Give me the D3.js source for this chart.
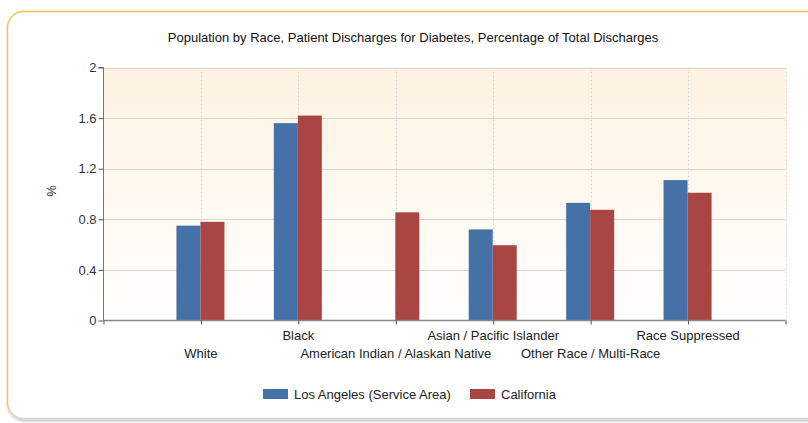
<!DOCTYPE html>
<html><head><meta charset="utf-8">
<script src="https://cdn.jsdelivr.net/npm/d3@7"></script>
<style>body{margin:0;background:#fff}svg{display:block}text{font-family:"Liberation Sans",Arial,sans-serif}</style>
</head><body><svg id="c" width="808" height="423"></svg>
<script>
const categories = ["White","Black","American Indian / Alaskan Native","Asian / Pacific Islander","Other Race / Multi-Race","Race Suppressed"];
const losAngeles = [0.75, 1.56, null, 0.72, 0.93, 1.11];
const california = [0.78, 1.62, 0.855, 0.595, 0.875, 1.01];
const seriesNames = ["Los Angeles (Service Area)","California"];
const colors = ["#4571a6","#a94644"];
const yTicks = [0,0.4,0.8,1.2,1.6,2];
const title = "Population by Race, Patient Discharges for Diabetes, Percentage of Total Discharges";

const svg = d3.select("#c");
const defs = svg.append("defs");
const g1 = defs.append("linearGradient").attr("id","bg").attr("x1",0).attr("y1",0).attr("x2",0).attr("y2",1);
g1.append("stop").attr("offset","0%").attr("stop-color","#fdf2e0");
g1.append("stop").attr("offset","100%").attr("stop-color","#ffffff");
const g2 = defs.append("linearGradient").attr("id","bd").attr("x1",0).attr("y1",0).attr("x2",0).attr("y2",1);
g2.append("stop").attr("offset","0%").attr("stop-color","#f6c14e");
g2.append("stop").attr("offset","96%").attr("stop-color","#f6c14e");
g2.append("stop").attr("offset","100%").attr("stop-color","#d8d8d8");
const f = defs.append("filter").attr("id","sh").attr("x","-5%").attr("y","-5%").attr("width","110%").attr("height","110%");
f.append("feDropShadow").attr("dx",1).attr("dy",2).attr("stdDeviation",1.5).attr("flood-color","#000").attr("flood-opacity",0.25);

svg.append("rect").attr("x",7.5).attr("y",11.5).attr("width",820).attr("height",407).attr("rx",16)
  .attr("fill","#fff").attr("stroke","url(#bd)").attr("stroke-width",1.5).attr("filter","url(#sh)");

const L=103.5, R=785.5, T=67.5, B=320.5;
const x = d3.scaleLinear().domain([0,categories.length+1]).range([L,R]);
const y = d3.scaleLinear().domain([0,2]).range([B,T]);
const bw = 24;

svg.append("rect").attr("x",L).attr("y",T).attr("width",R-L).attr("height",B-T).attr("fill","url(#bg)");

svg.append("g").selectAll("line").data(yTicks.slice(1)).join("line")
  .attr("x1",L).attr("x2",R).attr("y1",d=>Math.round(y(d))+0.5).attr("y2",d=>Math.round(y(d))+0.5)
  .attr("stroke","#d6d6d6").attr("stroke-width",1);
const vt = d3.range(1,categories.length+2);
svg.append("g").selectAll("line").data(vt).join("line")
  .attr("x1",d=>Math.round(x(d))+0.5).attr("x2",d=>Math.round(x(d))+0.5).attr("y1",T).attr("y2",B)
  .attr("stroke","#dadada").attr("stroke-dasharray","2,2");

const series=[losAngeles,california];
series.forEach((s,si)=>{
  svg.append("g").selectAll("rect").data(s.map((v,i)=>({v,i})).filter(d=>d.v!=null)).join("rect")
    .attr("x",d=>x(d.i+1)-0.5+(si===0?-bw:0)).attr("width",bw)
    .attr("y",d=>y(d.v)).attr("height",d=>B-y(d.v))
    .attr("fill",colors[si]);
});

const ya = d3.axisLeft(y).tickValues(yTicks).tickSize(5).tickFormat(d=>d3.format("~g")(d));
const gy = svg.append("g").attr("transform",`translate(${L},0)`).call(ya);
gy.select(".domain").attr("stroke","#777").attr("d",`M-5,${T}H0V${B}`);
gy.selectAll(".tick line").attr("stroke","#555");
gy.selectAll("text").attr("font-size",13).attr("fill","#333").attr("dx",1);

const xa = d3.axisBottom(x).tickValues(d3.range(0,categories.length+2)).tickSize(4).tickFormat("");
const gx = svg.append("g").attr("transform",`translate(0,${B})`).call(xa);
gx.select(".domain").attr("stroke","#888").attr("stroke-width",1.5).attr("d",`M${L},0H${R}`);
gx.selectAll(".tick line").attr("stroke","#555");

svg.append("g").selectAll("text").data(categories).join("text")
  .attr("x",(d,i)=>x(i+1)).attr("y",(d,i)=>i%2===0?358:340)
  .attr("text-anchor","middle").attr("font-size",13).attr("fill","#222").text(d=>d);

svg.append("text").attr("transform","translate(56,191) rotate(-90)").attr("text-anchor","middle")
  .attr("font-size",13).attr("fill","#333").text("%");

svg.append("text").attr("x",413).attr("y",42).attr("text-anchor","middle").attr("font-size",13)
  .attr("fill","#111").text(title);

const lg = svg.append("g");
const lx=[263,470];
seriesNames.forEach((n,i)=>{
  lg.append("rect").attr("x",lx[i]).attr("y",389).attr("width",25).attr("height",10).attr("fill",colors[i]);
  lg.append("text").attr("x",lx[i]+31).attr("y",398.5).attr("font-size",13).attr("fill","#222").text(n);
});
</script></body></html>
